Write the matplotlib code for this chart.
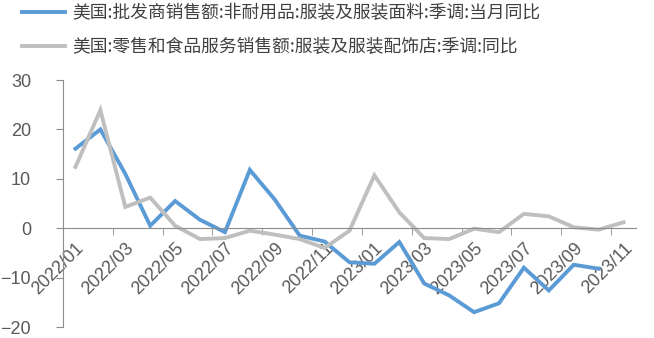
import numpy as np
import matplotlib.pyplot as plt

plt.rcParams['font.family'] = ['Liberation Sans', 'Noto Sans CJK SC', 'DejaVu Sans']

months = ['2022/01', '2022/02', '2022/03', '2022/04', '2022/05', '2022/06',
          '2022/07', '2022/08', '2022/09', '2022/10', '2022/11', '2022/12',
          '2023/01', '2023/02', '2023/03', '2023/04', '2023/05', '2023/06',
          '2023/07', '2023/08', '2023/09', '2023/10', '2023/11']

# wholesale: apparel & piece goods, yoy (%)
wholesale = [16.1, 20.0, 11.0, 0.5, 5.5, 1.7, -0.8, 11.8, 5.8, -1.5, -2.7,
             -6.9, -7.2, -2.8, -11.2, -13.6, -17.0, -15.2, -8.0, -12.6, -7.4, -8.2]
# retail: clothing & accessories stores, yoy (%)
retail = [12.4, 23.9, 4.3, 6.2, 0.5, -2.2, -2.0, -0.5, -1.3, -2.2, -4.0,
          -0.5, 10.7, 3.2, -2.0, -2.2, -0.1, -0.8, 2.9, 2.4, 0.2, -0.3, 1.2]

label_wholesale = '美国:批发商销售额:非耐用品:服装及服装面料:季调:当月同比'
label_retail = '美国:零售和食品服务销售额:服装及服装配饰店:季调:同比'

axis_grey = '#8c8c8c'
text_grey = '#595959'

fig = plt.figure(figsize=(6.54, 3.38), dpi=100)
ax = fig.add_axes([63 / 654, 11 / 338, 573 / 654, 247 / 338])

x = np.arange(len(months))
ax.plot(x[:len(wholesale)], wholesale, color='#5b9bd5', lw=2.8,
        solid_joinstyle='miter', label=label_wholesale)
ax.plot(x[:len(retail)], retail, color='#bfbfbf', lw=2.8,
        solid_joinstyle='miter', label=label_retail)

ax.set_xlim(-0.5, len(months) - 0.5)
ax.set_ylim(-20, 30)
ax.set_yticks([-20, -10, 0, 10, 20, 30])

for side in ['top', 'right']:
    ax.spines[side].set_visible(False)
ax.spines['bottom'].set_position(('data', 0))
ax.spines['bottom'].set_color(axis_grey)
ax.spines['left'].set_color(axis_grey)

ax.set_xticks(x[::2])
ax.set_xticklabels(months[::2], rotation=45, ha='right', va='top',
                   rotation_mode='anchor')
ax.set_xticks(np.arange(1.5, len(months) - 0.5, 2), minor=True)
ax.tick_params(axis='x', which='major', length=0, pad=8,
               labelsize=13, labelcolor=text_grey)
ax.tick_params(axis='x', which='minor', length=5, direction='out',
               color=axis_grey)
ax.tick_params(axis='y', length=5, direction='out', color=axis_grey,
               labelsize=13, labelcolor=text_grey, pad=18)

leg = fig.legend(loc='upper left', bbox_to_anchor=(22 / 654, 1 - 4 / 338),
                 frameon=False, borderpad=0, borderaxespad=0,
                 prop={'family': ['Noto Sans CJK SC', 'DejaVu Sans'], 'size': 12.8},
                 handlelength=2.4, handletextpad=0.45, labelspacing=0.9)
for t in leg.get_texts():
    t.set_color('#404040')

fig.savefig('out.png', dpi=100)
